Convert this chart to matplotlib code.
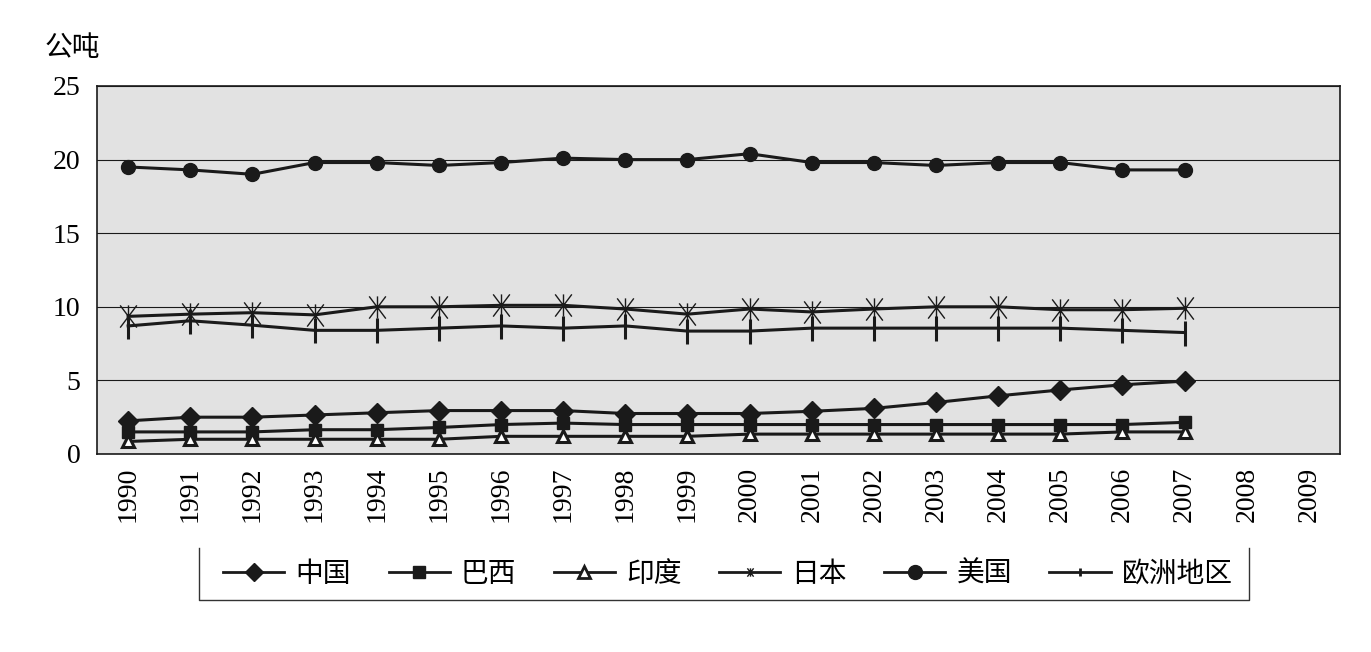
import matplotlib.pyplot as plt
import numpy as np
from matplotlib.lines import Line2D
from matplotlib.path import Path

plt.rcParams['font.family'] = ['Liberation Serif', 'Noto Sans CJK SC']

# Years on the x axis (data stops at 2007)
years = [str(y) for y in range(1990, 2010)]

# Values (tonnes per person), 1990-2007
china = [2.25, 2.5, 2.5, 2.65, 2.8, 2.95, 2.95, 2.95, 2.75, 2.75, 2.75, 2.9, 3.1, 3.5, 3.95, 4.35, 4.7, 4.95]
brazil = [1.5, 1.5, 1.5, 1.65, 1.65, 1.8, 2.0, 2.1, 2.0, 2.0, 2.0, 2.0, 2.0, 2.0, 2.0, 2.0, 2.0, 2.15]
india = [0.85, 1.0, 1.0, 1.0, 1.0, 1.0, 1.2, 1.2, 1.2, 1.2, 1.35, 1.35, 1.35, 1.35, 1.35, 1.35, 1.5, 1.5]
japan = [9.35, 9.5, 9.6, 9.45, 10.0, 10.0, 10.1, 10.1, 9.85, 9.5, 9.85, 9.65, 9.85, 10.0, 10.0, 9.8, 9.8, 9.9]
usa = [19.5, 19.3, 19.0, 19.8, 19.8, 19.6, 19.8, 20.1, 20.0, 20.0, 20.4, 19.8, 19.8, 19.6, 19.8, 19.8, 19.3, 19.3]
europe = [8.7, 9.05, 8.75, 8.4, 8.4, 8.55, 8.7, 8.55, 8.7, 8.35, 8.35, 8.55, 8.55, 8.55, 8.55, 8.55, 8.4, 8.25]

names = ['中国', '巴西', '印度', '日本', '美国', '欧洲地区']

# asterisk-like marker: an X with a vertical bar
star = Path([(-0.75, -1), (0.75, 1), (-0.75, 1), (0.75, -1), (0, -1), (0, 1)],
            [Path.MOVETO, Path.LINETO, Path.MOVETO, Path.LINETO, Path.MOVETO, Path.LINETO])

fig = plt.figure(figsize=(13.71, 6.52), dpi=100)
ax = fig.add_axes([0.0708, 0.3037, 0.9066, 0.5644])
ax.set_facecolor('#e2e2e2')

x = np.arange(len(china))
lw = 2.2
ax.plot(x, usa, color='#1a1a1a', lw=lw, marker='o', ms=10, zorder=3)
ax.plot(x, japan, color='#1a1a1a', lw=lw, marker=star, ms=16, mew=1.0, zorder=3)
ax.plot(x, europe, color='#1a1a1a', lw=lw, marker='|', ms=18, mew=2.2, zorder=3)
ax.plot(x, china, color='#1a1a1a', lw=lw, marker='D', ms=10, zorder=3)
ax.plot(x, brazil, color='#1a1a1a', lw=lw, marker='s', ms=8.5, zorder=3)
ax.plot(x, india, color='#1a1a1a', lw=lw, marker='^', ms=9, mfc='white', mec='#1a1a1a', mew=2.2, zorder=4)

ax.set_xlim(-0.5, len(years) - 0.5)
ax.set_ylim(0, 25)
ax.set_yticks([0, 5, 10, 15, 20, 25])
ax.set_xticks(np.arange(len(years)))
ax.set_xticklabels(years, rotation=90, fontsize=20)
ax.tick_params(axis='y', labelsize=20, length=0, pad=12)
ax.tick_params(axis='x', length=0, pad=9)
ax.grid(axis='y', color='#1a1a1a', lw=0.8)
ax.set_axisbelow(True)
for s in ax.spines.values():
    s.set_color('#1a1a1a')
    s.set_linewidth(1.2)

fig.text(45 / 1371, 1 - 48 / 652, '公吨', fontsize=20, family=['Noto Sans CJK SC'], va='center', ha='left')

# legend handles
handles = [
    Line2D([], [], color='#1a1a1a', lw=2, marker='D', ms=9),
    Line2D([], [], color='#1a1a1a', lw=2, marker='s', ms=9),
    Line2D([], [], color='#1a1a1a', lw=2, marker='^', ms=8, mfc='white', mew=2),
    Line2D([], [], color='#1a1a1a', lw=2, marker=star, ms=6, mew=1),
    Line2D([], [], color='#1a1a1a', lw=2, marker='o', ms=10),
    Line2D([], [], color='#1a1a1a', lw=2, marker='|', ms=6, mew=2),
]
fig.legend(handles, names, loc='center', bbox_to_anchor=(728 / 1371, 1 - 574 / 652), ncol=6,
           frameon=False, prop={'family': 'Noto Sans CJK SC', 'size': 20},
           handlelength=2.2, handletextpad=0.4, columnspacing=1.35)

# legend border (no top edge)
bx0, bx1 = 199 / 1371, 1249 / 1371
by0, by1 = 1 - 600 / 652, 1 - 548 / 652
fig.add_artist(Line2D([bx0, bx0, bx1, bx1], [by1, by0, by0, by1], color='#333333', lw=1))

fig.savefig('out.png', dpi=100)
